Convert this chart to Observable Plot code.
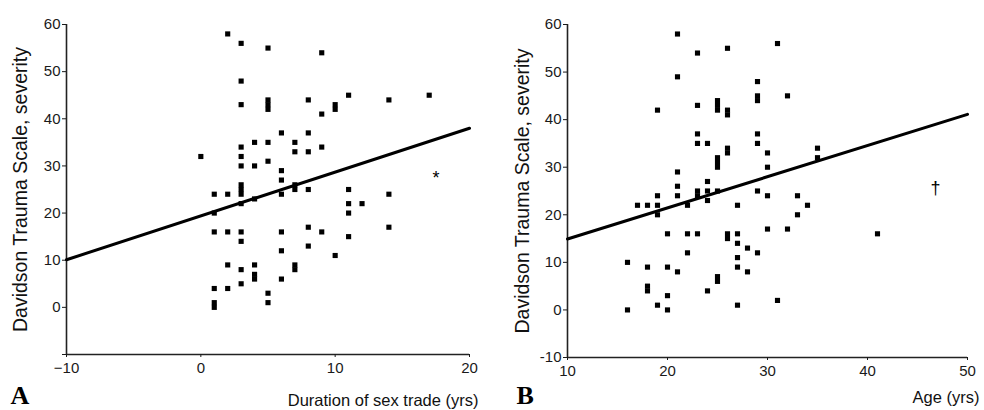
<!DOCTYPE html>
<html><head><meta charset="utf-8">
<script src="https://cdn.jsdelivr.net/npm/d3@7"></script>
<script src="https://cdn.jsdelivr.net/npm/@observablehq/plot@0.6"></script>
<style>
body{margin:0;background:#fff;}
#wrap{position:relative;width:984px;height:410px;}
.panel{position:absolute;top:0;}
</style></head><body><div id="wrap"></div>
<script>
// Panel A: duration of sex trade (yrs) vs DTS severity
const durationYrs = [2,3,5,9,3,3,5,5,5,8,9,10,10,11,14,17,6,8,4,5,7,3,7,8,9,0,3,3,4,5,6,6,7,7,8,11,1,2,3,3,3,6,14,11,12,11,1,3,4,1,2,3,3,6,8,9,11,14,8,6,10,2,3,4,4,4,7,7,6,3,1,2,5,5,1,1];
const severityA   = [58,56,55,54,48,43,44,43,42,44,41,42,43,45,44,45,37,37,35,35,35,34,33,33,34,32,32,30,30,31,29,27,26,25,25,25,24,24,24,25,26,24,24,22,22,20,20,22,23,16,16,16,14,16,17,16,15,17,13,12,11,9,8,9,7,6,9,8,6,5,4,4,3,1,1,0];
const fitA_x = [-10, 20];
const fitA_y = [10.1, 38.0];

// Panel B: age (yrs) vs DTS severity
const ageYrs    = [21,23,26,31,21,29,29,29,32,19,23,25,25,25,26,26,23,23,24,29,29,26,26,30,30,35,35,25,25,25,21,21,21,24,24,23,23,25,24,22,29,30,33,34,33,19,19,19,17,18,27,30,32,20,22,23,26,26,27,27,28,29,22,27,27,28,18,20,21,25,25,18,18,24,20,19,20,27,31,16,16,41];
const severityB = [58,54,55,56,49,48,45,44,45,42,43,44,43,42,42,41,37,35,35,37,35,34,33,33,30,34,32,32,31,30,29,26,24,27,25,25,24,25,23,22,25,24,24,22,20,24,22,20,22,22,22,17,17,16,16,16,16,15,16,14,13,12,12,11,9,8,9,9,8,7,6,5,4,4,3,1,0,1,2,10,0,16];
const fitB_x = [10, 50];
const fitB_y = [14.9, 41.1];

const yTicks = [-10, 0, 10, 20, 30, 40, 50, 60];
const xTicksA = [-10, 0, 10, 20];
const xTicksB = [10, 20, 30, 40, 50];
const yTitle = "Davidson Trauma Scale, severity";
const xTitleA = "Duration of sex trade (yrs)";
const xTitleB = "Age (yrs)";

function panel(o) {
  const pts = o.xs.map((x, i) => ({x, y: o.ys[i]}));
  const fit = o.fx.map((x, i) => ({x, y: o.fy[i]}));
  const sans = "Liberation Sans, Arial, sans-serif";
  const svg = Plot.plot({
    width: 492, height: 410,
    marginLeft: o.ml, marginRight: o.mr, marginTop: 24, marginBottom: o.mb,
    style: {fontFamily: sans, fontSize: "15px", color: "#1a1a1a", background: "transparent", overflow: "visible"},
    x: {domain: o.xDomain},
    y: {domain: [-10, 60]},
    marks: [
      Plot.ruleX([o.xDomain[0]], {y1: -10, y2: 60, stroke: "#222", strokeWidth: 1.6}),
      Plot.ruleY([-10], {x1: o.xDomain[0], x2: o.xDomain[1], stroke: "#222", strokeWidth: 1.6}),
      Plot.axisY({ticks: yTicks, tickSize: 4, tickPadding: 2, label: null, fontSize: 15,
        tickFormat: d => (o.hideMinY && d === -10) ? "" : String(d)}),
      Plot.axisX({ticks: o.xTicks, tickSize: 3, tickPadding: 5, label: null, fontSize: 15}),
      Plot.line(fit, {x: "x", y: "y", stroke: "black", strokeWidth: 3}),
      Plot.dot(pts, {x: "x", y: "y", symbol: "square", r: 2.9, fill: "black", stroke: "none"}),
      Plot.text([o.note], {x: o.noteX, y: o.noteY, text: d => d, fontSize: 18, fill: "black"}),
      Plot.text([yTitle], {frameAnchor: "left", rotate: -90, textAnchor: "middle", lineAnchor: "middle", dx: o.ytDx, text: d => d, fontSize: 19.5, fill: "#111", fontFamily: sans}),
      Plot.text([o.xTitle], {frameAnchor: "bottom-right", textAnchor: "end", lineAnchor: "middle", dx: o.xtDx, dy: o.xtDy, text: d => d, fontSize: 16.5, fill: "#111", fontFamily: sans}),
      Plot.text([o.letter], {frameAnchor: "bottom-left", textAnchor: "start", lineAnchor: "middle", dx: o.letDx, dy: o.letDy, text: d => d, fontSize: 26, fontWeight: "bold", fontFamily: "Liberation Serif, Times New Roman, serif", fill: "black"})
    ]
  });
  d3.select(svg).selectAll("g[aria-label*='axis'] text").style("font-size", "15px");
  return svg;
}

const wrap = document.getElementById("wrap");
const a = panel({xs: durationYrs, ys: severityA, fx: fitA_x, fy: fitA_y, xDomain: [-10, 20], xTicks: xTicksA,
  ml: 66, mr: 23, mb: 56, hideMinY: true, note: "*", noteX: 17.5, noteY: 27.3,
  ytDx: -45.5, xTitle: xTitleA, xtDx: 9, xtDy: 46, letter: "A", letDx: -56, letDy: 41});
a.classList.add("panel"); a.style.left = "0px";
const b = panel({xs: ageYrs, ys: severityB, fx: fitB_x, fy: fitB_y, xDomain: [10, 50], xTicks: xTicksB,
  ml: 75, mr: 17, mb: 53, hideMinY: false, note: "†", noteX: 46.8, noteY: 25.6,
  ytDx: -45, xTitle: xTitleB, xtDx: 12, xtDy: 40, letter: "B", letDx: -51, letDy: 38});
b.classList.add("panel"); b.style.left = "492px";
wrap.appendChild(a); wrap.appendChild(b);
</script></body></html>
